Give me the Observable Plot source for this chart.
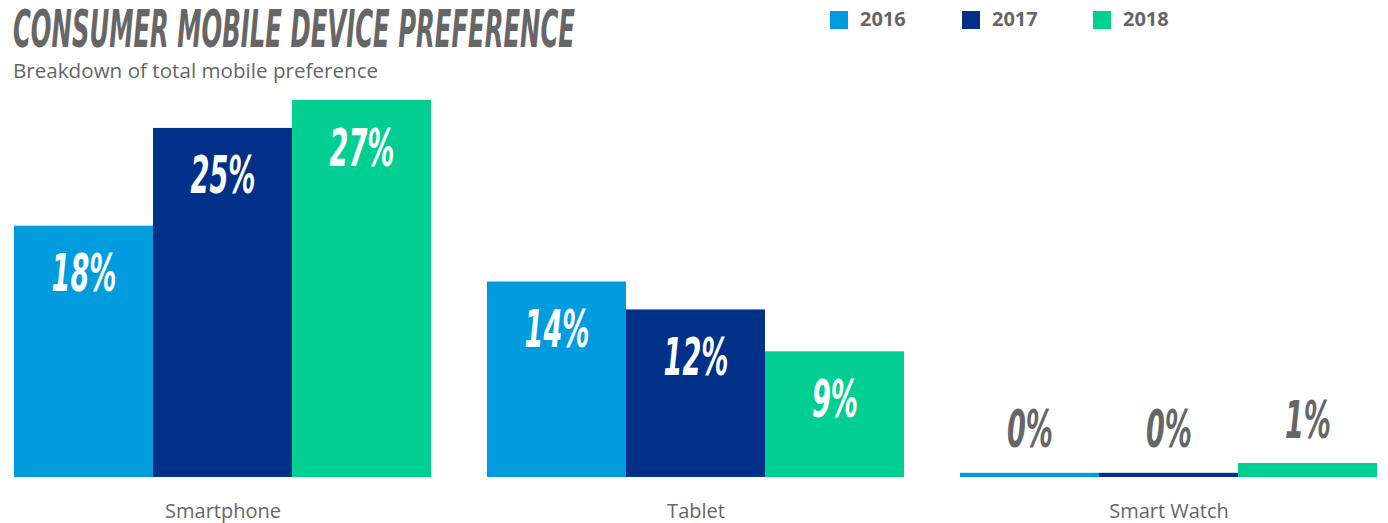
<!DOCTYPE html>
<html>
<head>
<meta charset="utf-8">
<script src="https://cdn.jsdelivr.net/npm/d3@7"></script>
<script src="https://cdn.jsdelivr.net/npm/@observablehq/plot@0.6"></script>
<style>
  html, body { margin: 0; padding: 0; background: #fff; }
  #wrap { position: relative; width: 1388px; height: 523px; overflow: hidden; }
  #chart { position: absolute; left: 0; top: 0; }
  .cond { font-family: "DejaVu Sans Condensed", "DejaVu Sans", sans-serif; font-stretch: condensed; font-weight: bold; font-style: italic; }
  #title { position: absolute; left: 13px; top: 7px; font-size: 52px; line-height: 0.88; height: 44px; color: #666; white-space: nowrap; transform-origin: 0 0; }
  #subtitle { position: absolute; left: 13px; top: 61px; font-family: "Open Sans", sans-serif; font-size: 20px; line-height: 1; color: #666; white-space: nowrap; transform-origin: 0 0; }
  .leg { position: absolute; top: 9px; font-family: "Open Sans", sans-serif; font-weight: bold; font-size: 20px; line-height: 1; color: #666; white-space: nowrap; }
  .sw { position: absolute; top: 11px; width: 18px; height: 18px; }
</style>
</head>
<body>
<div id="wrap">
  <div id="chart"></div>
  <div id="title" class="cond">CONSUMER MOBILE DEVICE PREFERENCE</div>
  <div id="subtitle">Breakdown of total mobile preference</div>
  <div id="legend"></div>
</div>
<script>
// ---- data ----
const categories = ["Smartphone", "Tablet", "Smart Watch"];
const years = ["2016", "2017", "2018"];
const colors = ["#009cde", "#003087", "#00cf91"];
const values2016 = [18, 14, 0.3];
const values2017 = [25, 12, 0.3];
const values2018 = [27, 9, 1];

const seriesValues = [values2016, values2017, values2018];
const data = [];
categories.forEach((c, i) => {
  years.forEach((y, j) => data.push({category: c, year: y, value: seriesValues[j][i]}));
});
const fmt = d => Math.round(d.value) + "%";

const labelFont = {
  fontFamily: "DejaVu Sans Condensed, DejaVu Sans, sans-serif",
  fontWeight: "bold",
  fontStyle: "italic",
  fontSize: 52
};

const chart = Plot.plot({
  width: 1388,
  height: 523,
  marginTop: 100,
  marginBottom: 46,
  marginLeft: 13,
  marginRight: 9,
  style: {background: "#fff", overflow: "visible"},
  fx: {domain: categories, padding: 0.118, label: null},
  x: {domain: years, padding: 0, axis: null},
  y: {domain: [0, 27], axis: null},
  color: {domain: years, range: colors},
  marks: [
    Plot.barY(data, {fx: "category", x: "year", y: "value", fill: "year"}),
    Plot.text(data.filter(d => d.value >= 5), {
      fx: "category", x: "year", y: "value", text: fmt,
      lineAnchor: "bottom", dy: 65, fill: "white", className: "barlabel", ...labelFont
    }),
    Plot.text(data.filter(d => d.value < 5), {
      fx: "category", x: "year", y: "value", text: fmt,
      lineAnchor: "bottom", dy: -26, fill: "#666", className: "barlabel", ...labelFont
    }),
    Plot.axisFx({anchor: "bottom", tickSize: 0, tickPadding: 26, fontSize: 20,
      fontFamily: "Open Sans, sans-serif", color: "#666", label: null})
  ]
});
document.getElementById("chart").appendChild(chart);

// legend
const legend = document.getElementById("legend");
const swX = [830, 962, 1093];
years.forEach((y, i) => {
  const sw = document.createElement("div");
  sw.className = "sw"; sw.style.left = swX[i] + "px"; sw.style.background = colors[i];
  legend.appendChild(sw);
  const t = document.createElement("div");
  t.className = "leg"; t.style.left = (swX[i] + 30) + "px"; t.textContent = y;
  legend.appendChild(t);
});

// condense the display-style labels
const labels = Array.from(chart.querySelectorAll(".barlabel text"));
const ref = labels.find(t => t.textContent === "27%");
const k = ref ? 65 / ref.getComputedTextLength() : 0.58;
labels.forEach(t => {
  const L = t.getComputedTextLength();
  t.setAttribute("textLength", (L * k).toFixed(1));
  t.setAttribute("lengthAdjust", "spacingAndGlyphs");
});
const title = document.getElementById("title");
title.style.transform = `scaleX(${562 / title.scrollWidth})`;
const sub = document.getElementById("subtitle");
sub.style.transform = `scaleX(${365 / sub.offsetWidth})`;
</script>
</body>
</html>
